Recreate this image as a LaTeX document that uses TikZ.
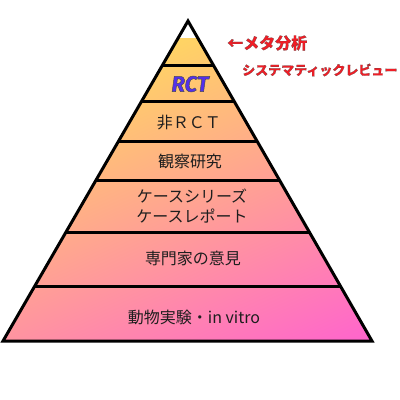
\documentclass[tikz,border=0pt]{standalone}
\usepackage{fontspec}
\usetikzlibrary{calc}
\setmainfont{Noto Sans CJK JP}
\newfontfamily\rctfont{Fira Sans}
\definecolor{pyrtop}{RGB}{255,216,96}
\definecolor{pyrmid}{RGB}{255,168,128}
\definecolor{pyrbot}{RGB}{255,100,205}
\definecolor{lbl}{RGB}{30,30,30}
\definecolor{redlbl}{RGB}{240,30,38}
\definecolor{rctblue}{RGB}{84,48,235}
\newcommand{\outl}[3]{{\color{#1}\special{pdf:literal direct 2 Tr #2 w 0.3 0.3 0.3 RG}#3\special{pdf:literal direct 0 Tr}}}
\begin{document}
\begin{tikzpicture}[x=1pt,y=-1pt,
  edge/.style={line width=3pt,black,line join=miter},
  divider/.style={line width=3pt,black},
  lvl/.style={font=\fontsize{16}{20}\selectfont, text=lbl, inner sep=0pt, align=center},
  redtag/.style={inner sep=0pt, anchor=west}]
\useasboundingbox (0,0) rectangle (400,400);
\coordinate (A) at (188,21);
\coordinate (BL) at (3,341);
\coordinate (BR) at (372,341);
\begin{scope}
  \clip (A) -- (BL) -- (BR) -- cycle;
  \shade[top color=pyrtop, middle color=pyrmid, bottom color=pyrbot, shading angle=24]
    (4.3,38.3) rectangle (371.7,405.7);
\end{scope}
\foreach \yy [count=\i] in {65,101,141,180,232,286} {
  \coordinate (L\i) at ($(A)!{(\yy-21)/320}!(BL)$);
  \coordinate (R\i) at ($(A)!{(\yy-21)/320}!(BR)$);
  \draw[divider] (L\i) -- (R\i);
}
\draw[edge] (A) -- (BL) -- (BR) -- cycle;
\node[lvl] (rct) at (190,84) {\rctfont\bfseries\itshape\fontsize{22}{26}\selectfont\outl{rctblue}{0.45}{RCT}};
\node[lvl] (nonrct) at (189,123) {非ＲＣＴ};
\node[lvl] (obs) at (190,161) {観察研究};
\node[lvl] (case) at (192,206) {ケースシリーズ\\ケースレポート};
\node[lvl] (expert) at (193,258) {専門家の意見};
\node[lvl] (animal) at (194,317) {動物実験・in vitro};
\node[redtag] (meta) at (227,43) {\bfseries\fontsize{16}{20}\selectfont\outl{redlbl}{0.12}{←メタ分析}};
\node[redtag] (sr) at (242,70) {\bfseries\fontsize{13}{16}\selectfont\outl{redlbl}{0.1}{システマティックレビュー}};
\end{tikzpicture}
\end{document}
